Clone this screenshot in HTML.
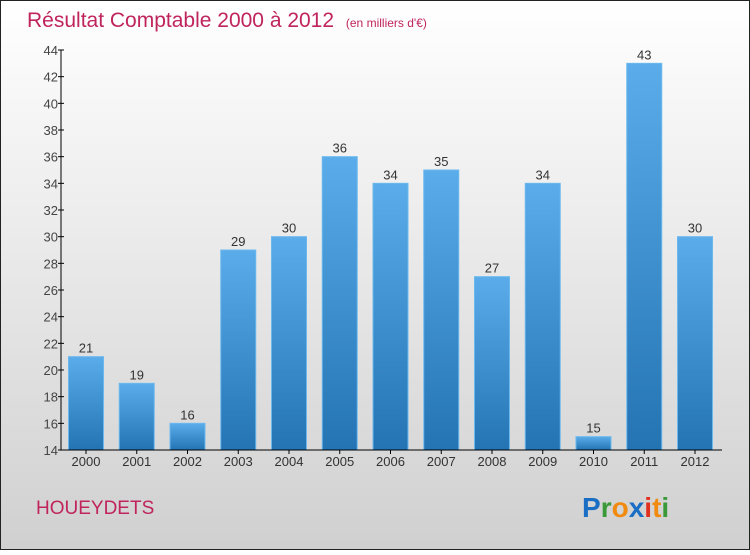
<!DOCTYPE html>
<html><head><meta charset="utf-8"><style>
body{margin:0;width:750px;height:550px;overflow:hidden;font-family:"Liberation Sans",sans-serif}
</style></head><body>
<svg id="c" width="750" height="550" xmlns="http://www.w3.org/2000/svg">
<defs>
<linearGradient id="bg" x1="0" y1="0" x2="0" y2="1"><stop offset="0" stop-color="#ffffff"/><stop offset="1" stop-color="#d0d0d0"/></linearGradient>
<linearGradient id="bar" x1="0" y1="0" x2="0" y2="1"><stop offset="0" stop-color="#5aacea"/><stop offset="1" stop-color="#2474b4"/></linearGradient>
</defs>
<rect x="0.5" y="0.5" width="749" height="549" fill="url(#bg)" stroke="#222"/>
<text x="27" y="27" font-size="21" fill="#c0245c">Résultat Comptable 2000 à 2012 <tspan font-size="12" dx="6">(en milliers d'€)</tspan></text>
<g id="plot"></g>
<text x="36" y="514" font-size="19" fill="#c0245c">HOUEYDETS</text>
<text x="582" y="517" font-size="28" font-weight="bold"><tspan fill="#1a6fc4">P</tspan><tspan fill="#3a9a3a">r</tspan><tspan fill="#f08a10">o</tspan><tspan fill="#1a6fc4">x</tspan><tspan fill="#e03020">i</tspan><tspan fill="#f08a10">t</tspan><tspan fill="#3a9a3a">i</tspan></text>
</svg>
<script>
const categories=["2000","2001","2002","2003","2004","2005","2006","2007","2008","2009","2010","2011","2012"];
const values=[21,19,16,29,30,36,34,35,27,34,15,43,30];
const yTicks=[14,16,18,20,22,24,26,28,30,32,34,36,38,40,42,44];
const NS="http://www.w3.org/2000/svg";
const g=document.getElementById('plot');
const yMin=14,yMax=44,plotTop=50,plotBot=450,plotLeft=61,plotRight=722;
const y=v=>plotBot-(v-yMin)/(yMax-yMin)*(plotBot-plotTop);
const step=50.75,bw=35;
const xc=i=>86+i*step;
function mk(t,a){const e=document.createElementNS(NS,t);for(const k in a)e.setAttribute(k,a[k]);g.appendChild(e);return e;}
categories.forEach((c,i)=>{
 const v=values[i];
 const r=mk('rect',{x:xc(i)-bw/2,y:y(v),width:bw,height:plotBot-y(v),fill:'url(#bar)',stroke:'#6cb8ee','stroke-width':1});
 
 
 const vl=mk('text',{x:xc(i),y:y(v)-4,'font-size':13,fill:'#333','text-anchor':'middle'});
 vl.textContent=v;
 
 
 const tk=mk('line',{x1:xc(i),y1:plotBot,x2:xc(i),y2:plotBot+4,stroke:'#000'});
 
 
 const xl=mk('text',{x:xc(i),y:plotBot+16,'font-size':13,fill:'#333','text-anchor':'middle'});
 xl.textContent=c;
 
 
});
const ax=mk('line',{x1:plotLeft,y1:plotTop,x2:plotLeft,y2:plotBot,stroke:'#000'});


const xa=mk('line',{x1:plotLeft,y1:plotBot,x2:plotRight,y2:plotBot,stroke:'#000'});


yTicks.forEach(v=>{
 const tk=mk('line',{x1:plotLeft-3,y1:y(v),x2:plotLeft+3,y2:y(v),stroke:'#000'});
 
 
 const t=mk('text',{x:plotLeft-3,y:y(v)+5,'font-size':13,fill:'#444','text-anchor':'end'});
 t.textContent=v;
 
 
});
</script>
</body></html>
